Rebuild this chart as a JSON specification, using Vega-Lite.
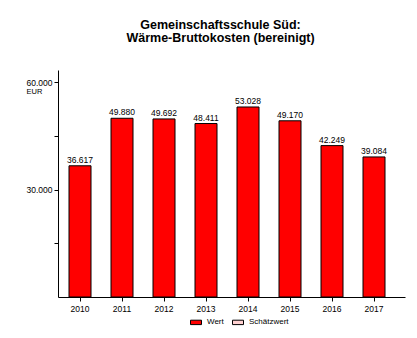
{
  "$schema": "https://vega.github.io/schema/vega-lite/v6.json",
  "autosize": "none",
  "width": 347,
  "height": 227,
  "padding": {"left": 58, "top": 70, "right": 12, "bottom": 41},
  "background": "white",
  "config": {
    "font": "Liberation Sans",
    "view": {"stroke": null},
    "locale": {"number": {"decimal": ",", "thousands": ".", "grouping": [3], "currency": ["", " €"]}}
  },
  "title": {
    "text": ["Gemeinschaftsschule Süd:", "Wärme-Bruttokosten (bereinigt)"],
    "font": "Liberation Sans",
    "fontSize": 12.5,
    "fontWeight": "bold",
    "color": "#000000",
    "anchor": "middle",
    "dx": -11,
    "offset": 26,
    "lineHeight": 13
  },
  "data": {
    "values": [
      {"Jahr": "2010", "Wert": 36617, "Art": "Wert"},
      {"Jahr": "2011", "Wert": 49880, "Art": "Wert"},
      {"Jahr": "2012", "Wert": 49692, "Art": "Wert"},
      {"Jahr": "2013", "Wert": 48411, "Art": "Wert"},
      {"Jahr": "2014", "Wert": 53028, "Art": "Wert"},
      {"Jahr": "2015", "Wert": 49170, "Art": "Wert"},
      {"Jahr": "2016", "Wert": 42249, "Art": "Wert"},
      {"Jahr": "2017", "Wert": 39084, "Art": "Wert"}
    ]
  },
  "encoding": {
    "x": {
      "field": "Jahr", "type": "ordinal",
      "scale": {"paddingInner": 0.476, "paddingOuter": 0.369, "align": 0.355},
      "axis": {
        "title": null, "labelAngle": 0, "labelFontSize": 8.5, "labelColor": "#000",
        "domainColor": "#000", "tickColor": "#000", "tickSize": 4, "labelPadding": 3
      }
    },
    "y": {
      "field": "Wert", "type": "quantitative",
      "scale": {"domain": [0, 63350], "nice": false},
      "axis": {
        "values": [15000, 30000, 45000, 60000],
        "format": ",.0f",
        "labelExpr": "datum.value == 30000 || datum.value == 60000 ? datum.label : ''",
        "grid": false, "labelFontSize": 8.5, "labelColor": "#000",
        "domainColor": "#000", "tickColor": "#000", "tickSize": 4, "labelPadding": 2,
        "title": "EUR", "titleAngle": 0, "titleAlign": "center", "titleBaseline": "alphabetic",
        "titleX": -24, "titleY": 23, "titleFontSize": 7.5, "titleFontWeight": "normal", "titleColor": "#000"
      }
    }
  },
  "layer": [
    {
      "mark": {"type": "bar", "stroke": "#000", "strokeWidth": 1},
      "encoding": {
        "fill": {
          "field": "Art", "type": "nominal",
          "scale": {"domain": ["Wert", "Schätzwert"], "range": ["#ff0000", "#ffd0d0"]},
          "legend": {
            "title": null, "orient": "none", "direction": "horizontal",
            "legendX": 132, "legendY": 246,
            "symbolType": "M-1,-0.4H1V0.4H-1Z", "symbolSize": 121,
            "symbolStrokeColor": "#000", "symbolStrokeWidth": 1,
            "labelFontSize": 8, "labelColor": "#000", "labelOffset": 5, "columnPadding": 6
          }
        }
      }
    },
    {
      "mark": {"type": "text", "baseline": "alphabetic", "dy": -3, "fontSize": 8.5, "color": "#000"},
      "encoding": {"text": {"field": "Wert", "type": "quantitative", "format": ",.0f"}}
    }
  ]
}
